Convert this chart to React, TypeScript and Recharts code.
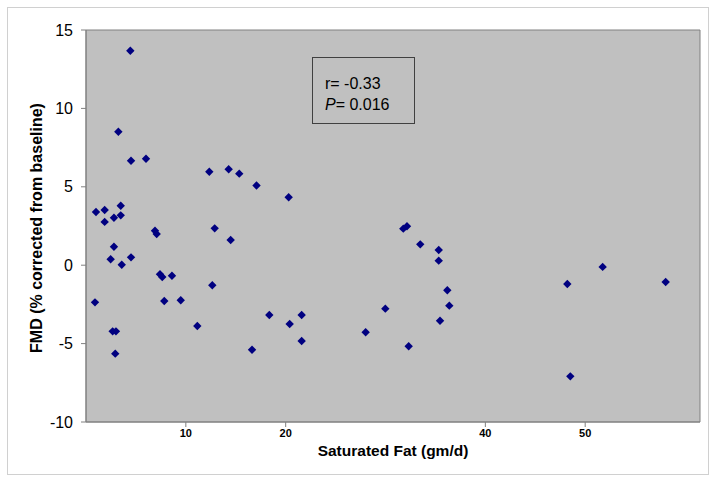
import React from "react";
import { ScatterChart, Scatter, XAxis, YAxis, ReferenceArea } from "recharts";

// saturated fat intake (gm/d) and FMD (% corrected from baseline), one entry per subject
const satFat = [
  4.44, 3.24, 4.51, 6.01, 12.35, 14.29, 15.35, 17.08, 20.3, 1.0, 1.87, 3.48, 1.87, 2.8, 3.48,
  6.91, 7.08, 12.89, 14.49, 2.8, 2.47, 3.58, 4.51, 7.41, 7.64, 8.61, 12.65, 0.9, 7.84, 9.49,
  11.15, 2.67, 3.0, 2.93, 16.63, 31.78, 32.15, 33.48, 29.98, 18.36, 20.4, 21.6, 21.6, 28.01,
  32.32, 35.33, 35.33, 36.19, 36.39, 35.46, 48.21, 51.75, 58.06, 48.51,
];
const fmd = [
  13.68, 8.51, 6.66, 6.79, 5.96, 6.12, 5.84, 5.08, 4.33, 3.39, 3.52, 3.79, 2.76, 3.03, 3.18,
  2.2, 1.99, 2.35, 1.61, 1.18, 0.38, 0.03, 0.5, -0.58, -0.75, -0.67, -1.28, -2.37, -2.28, -2.24,
  -3.88, -4.22, -4.22, -5.64, -5.39, 2.33, 2.48, 1.33, -2.77, -3.18, -3.75, -3.18, -4.83, -4.28,
  -5.17, 0.97, 0.29, -1.6, -2.58, -3.54, -1.2, -0.11, -1.07, -7.09,
];
const xTicks = [10, 20, 40, 50];
const yTicks = [-10, -5, 0, 5, 10, 15];

const points = satFat.map((x, i) => ({ x, y: fmd[i] }));

const font = "'Liberation Sans', Arial, sans-serif";

const Diamond = (props: any) => {
  const { cx, cy } = props;
  const r = 4.2;
  return (
    <polygon
      points={`${cx},${cy - r} ${cx + r},${cy} ${cx},${cy + r} ${cx - r},${cy}`}
      fill="#000080"
    />
  );
};

const YTitle = (props: any) => {
  const { viewBox } = props;
  const x = viewBox.x + 36;
  const y = viewBox.y + viewBox.height / 2 + 2;
  return (
    <text
      x={x}
      y={y}
      transform={`rotate(-90 ${x} ${y})`}
      textAnchor="middle"
      dominantBaseline="central"
      fontFamily={font}
      fontSize={16}
      fontWeight="bold"
      fill="#000"
    >
      FMD (% corrected from baseline)
    </text>
  );
};

export default function App() {
  return (
    <div style={{ position: "absolute", left: 0, top: 0, width: 716, height: 485, background: "#fff", fontFamily: font }}>
      <div
        style={{
          position: "absolute",
          left: 7,
          top: 7,
          width: 700,
          height: 466,
          border: "1px solid #d0d0d0",
        }}
      />
      <div style={{ position: "absolute", left: 0, top: 0 }}>
        <ScatterChart width={716} height={485} margin={{ top: 30, right: 16, bottom: 0, left: 0 }}>
          <XAxis
            type="number"
            dataKey="x"
            domain={[0, 61.5]}
            ticks={xTicks}
            height={63}
            tick={{ fontSize: 11, fontWeight: "bold", fill: "#000", fontFamily: font }}
            tickSize={5}
            tickMargin={2}
            axisLine={{ stroke: "#808080" }}
            tickLine={{ stroke: "#808080" }}
            label={{
              value: "Saturated Fat (gm/d)",
              position: "insideBottom",
              offset: 29,
              style: { fontSize: 15.5, fontWeight: "bold", fill: "#000", fontFamily: font },
            }}
          />
          <YAxis
            type="number"
            dataKey="y"
            domain={[-10, 15]}
            ticks={yTicks}
            width={86}
            tick={{ fontSize: 16, fill: "#000", fontFamily: font }}
            tickSize={5}
            tickMargin={8}
            axisLine={{ stroke: "#808080" }}
            tickLine={{ stroke: "#808080" }}
            label={<YTitle />}
          />
          <ReferenceArea x1={0} x2={61.5} y1={-10} y2={15} fill="#c0c0c0" fillOpacity={1} stroke="#808080" />
          <Scatter data={points} shape={<Diamond />} isAnimationActive={false} />
        </ScatterChart>
      </div>
      <div
        style={{
          position: "absolute",
          left: 312,
          top: 57,
          width: 101,
          height: 65,
          background: "#c0c0c0",
          border: "1px solid #404040",
          fontSize: 16,
          lineHeight: "21px",
          color: "#000",
          boxSizing: "content-box",
        }}
      >
        <div style={{ position: "absolute", left: 12, top: 15 }}>r= -0.33</div>
        <div style={{ position: "absolute", left: 12, top: 36 }}>
          <i>P</i>= 0.016
        </div>
      </div>
    </div>
  );
}
